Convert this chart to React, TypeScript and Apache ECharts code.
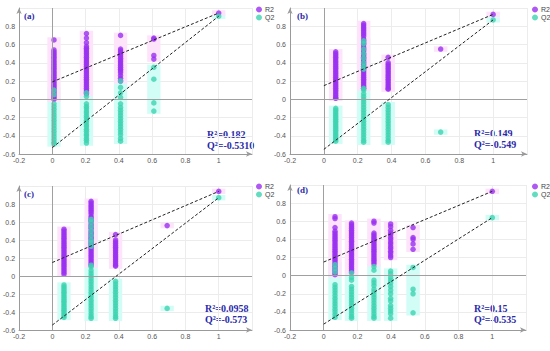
import React, { useEffect, useRef } from 'react';
import * as echarts from 'echarts';

const PANEL_LABELS = ['(a)', '(b)', '(c)', '(d)'];
const STAT_R2 = ['R²=0.182', 'R²=0.149', 'R²=0.0958', 'R²=0.15'];
const STAT_Q2 = ['Q²=-0.5310', 'Q²=-0.549', 'Q²=-0.573', 'Q²=-0.535'];
const X_TICKS = [-0.2, 0, 0.2, 0.4, 0.6, 0.8, 1];
const Y_TICKS = [-0.6, -0.4, -0.2, 0, 0.2, 0.4, 0.6, 0.8];

// ---- panel (a) ----
const A_X = [0.01, 0.205, 0.41, 0.61, 1];
const A_R2 = [
  [0.65, 0.54, 0.52, 0.5, 0.48, 0.46, 0.44, 0.42, 0.4, 0.38, 0.36, 0.34, 0.32, 0.3, 0.28, 0.26, 0.24, 0.22, 0.2, 0.18, 0.16, 0.14, 0.12, 0.1, 0.08, 0.06, 0.04, 0.02, 0.0],
  [0.72, 0.67, 0.62, 0.58, 0.56, 0.54, 0.52, 0.5, 0.48, 0.46, 0.44, 0.42, 0.4, 0.38, 0.36, 0.34, 0.32, 0.3, 0.28, 0.26, 0.24, 0.22, 0.2, 0.18, 0.16, 0.14, 0.12, 0.1, 0.08, 0.06],
  [0.7, 0.55, 0.53, 0.51, 0.49, 0.47, 0.45, 0.43, 0.41, 0.39, 0.37, 0.35, 0.33, 0.31, 0.29, 0.26, 0.23, 0.2],
  [0.67, 0.66, 0.48, 0.44],
  [0.945],
];
const A_Q2 = [
  [0.1, 0.05, -0.05, -0.08, -0.11, -0.14, -0.17, -0.2, -0.23, -0.26, -0.29, -0.32, -0.35, -0.38, -0.41, -0.44, -0.47, -0.49],
  [0.07, 0.03, -0.05, -0.08, -0.1, -0.13, -0.15, -0.18, -0.2, -0.23, -0.25, -0.28, -0.3, -0.33, -0.35, -0.38, -0.4, -0.43, -0.45, -0.48],
  [0.2, 0.13, 0.07, 0.02, -0.05, -0.09, -0.12, -0.15, -0.18, -0.21, -0.24, -0.27, -0.3, -0.33, -0.36, -0.39, -0.43, -0.46],
  [0.35, 0.22, -0.04, -0.13],
  [0.91],
];
const A_LINE_START = [0.19, -0.53];

// ---- panel (b) ----
const B_X = [0.07, 0.235, 0.38, 0.69, 1];
const B_R2 = [
  [0.52, 0.5, 0.48, 0.46, 0.44, 0.42, 0.4, 0.38, 0.36, 0.34, 0.32, 0.3, 0.28, 0.26, 0.24, 0.22, 0.2, 0.18, 0.16, 0.14, 0.12, 0.1, 0.08, 0.06, 0.04, 0.02, 0.01],
  [0.83, 0.81, 0.79, 0.77, 0.75, 0.73, 0.71, 0.69, 0.66, 0.64, 0.62, 0.6, 0.57, 0.55, 0.53, 0.5, 0.48, 0.46, 0.44, 0.42, 0.4, 0.38, 0.36, 0.34, 0.32, 0.3, 0.28, 0.26, 0.24, 0.22, 0.2, 0.18, 0.16, 0.14, 0.12],
  [0.46, 0.4, 0.38, 0.36, 0.34, 0.32, 0.3, 0.28, 0.26, 0.24, 0.22, 0.2, 0.18, 0.16, 0.14, 0.12, 0.11],
  [0.55],
  [0.93],
];
const B_Q2 = [
  [-0.1, -0.12, -0.14, -0.16, -0.18, -0.2, -0.22, -0.24, -0.26, -0.28, -0.3, -0.32, -0.34, -0.36, -0.38, -0.4, -0.42, -0.44, -0.46],
  [0.64, 0.61, 0.55, 0.5, 0.45, 0.4, 0.36, 0.33, 0.12, 0.1, 0.06, 0.03, 0.0, -0.03, -0.06, -0.09, -0.12, -0.15, -0.18, -0.21, -0.24, -0.27, -0.3, -0.33, -0.36, -0.39, -0.42, -0.45, -0.47],
  [-0.06, -0.09, -0.12, -0.15, -0.18, -0.21, -0.24, -0.27, -0.3, -0.33, -0.36, -0.39, -0.42, -0.45, -0.47],
  [-0.36],
  [0.87],
];
const B_LINE_START = [0.149, -0.549];

// ---- panel (c) ----
const C_X = [0.07, 0.233, 0.38, 0.69, 1];
const C_R2 = [
  [0.52, 0.5, 0.48, 0.46, 0.44, 0.42, 0.4, 0.38, 0.36, 0.34, 0.32, 0.3, 0.28, 0.26, 0.24, 0.22, 0.2, 0.18, 0.16, 0.14, 0.12, 0.1, 0.08, 0.06, 0.04, 0.02],
  [0.83, 0.81, 0.79, 0.77, 0.75, 0.73, 0.71, 0.69, 0.66, 0.64, 0.62, 0.6, 0.57, 0.55, 0.53, 0.5, 0.48, 0.46, 0.44, 0.42, 0.4, 0.38, 0.36, 0.34, 0.32, 0.3, 0.28, 0.26, 0.24, 0.22, 0.2, 0.18, 0.16, 0.14, 0.12],
  [0.46, 0.4, 0.38, 0.36, 0.34, 0.32, 0.3, 0.28, 0.26, 0.24, 0.22, 0.2, 0.18, 0.16, 0.14, 0.12, 0.11],
  [0.56],
  [0.94],
];
const C_Q2 = [
  [-0.1, -0.12, -0.14, -0.16, -0.18, -0.2, -0.22, -0.24, -0.26, -0.28, -0.3, -0.32, -0.34, -0.36, -0.38, -0.4, -0.42, -0.44, -0.46],
  [0.63, 0.6, 0.55, 0.5, 0.45, 0.4, 0.37, 0.33, 0.12, 0.1, 0.06, 0.03, 0.0, -0.03, -0.06, -0.09, -0.12, -0.15, -0.18, -0.21, -0.24, -0.27, -0.3, -0.33, -0.36, -0.39, -0.42, -0.45, -0.47],
  [-0.06, -0.09, -0.12, -0.15, -0.18, -0.21, -0.24, -0.27, -0.3, -0.33, -0.36, -0.39, -0.42, -0.45, -0.47],
  [-0.36],
  [0.87],
];
const C_LINE_START = [0.15, -0.545];

// ---- panel (d) ----
const D_X = [0.067, 0.165, 0.298, 0.397, 0.53, 1];
const D_R2 = [
  [0.65, 0.63, 0.53, 0.49, 0.47, 0.45, 0.43, 0.41, 0.39, 0.37, 0.35, 0.33, 0.31, 0.29, 0.27, 0.25, 0.23, 0.21, 0.19, 0.17, 0.15, 0.13, 0.11, 0.09, 0.07, 0.05, 0.03, 0.01],
  [0.58, 0.56, 0.54, 0.52, 0.5, 0.48, 0.46, 0.44, 0.42, 0.4, 0.38, 0.36, 0.34, 0.32, 0.3, 0.28, 0.26, 0.24, 0.22, 0.2, 0.18, 0.16, 0.14, 0.12, 0.1, 0.08, 0.06, 0.04],
  [0.6, 0.58, 0.47, 0.45, 0.43, 0.41, 0.39, 0.37, 0.35, 0.33, 0.31, 0.29, 0.27, 0.25, 0.23, 0.21, 0.19, 0.17, 0.15, 0.13],
  [0.57, 0.54, 0.5, 0.47, 0.45, 0.42, 0.4, 0.37, 0.35, 0.32, 0.3, 0.27, 0.25, 0.22, 0.2],
  [0.53, 0.42, 0.4, 0.35, 0.29],
  [0.93],
];
const D_Q2 = [
  [0.12, 0.08, 0.04, -0.1, -0.13, -0.16, -0.19, -0.22, -0.25, -0.28, -0.31, -0.34, -0.37, -0.4, -0.43, -0.46],
  [0.03, -0.02, -0.05, -0.12, -0.15, -0.18, -0.21, -0.24, -0.27, -0.3, -0.33, -0.36, -0.39, -0.42, -0.45, -0.47],
  [0.1, 0.06, -0.05, -0.08, -0.11, -0.15, -0.18, -0.21, -0.24, -0.27, -0.3, -0.33, -0.36, -0.39, -0.42, -0.45, -0.47],
  [0.05, 0.02, -0.02, -0.05, -0.08, -0.12, -0.16, -0.2, -0.25, -0.28, -0.33, -0.36, -0.39, -0.42, -0.47],
  [0.09, -0.15, -0.2, -0.41],
  [0.64],
];
const D_LINE_START = [0.15, -0.535];

const PANELS = [
  { xs: A_X, r2: A_R2, q2: A_Q2, start: A_LINE_START },
  { xs: B_X, r2: B_R2, q2: B_Q2, start: B_LINE_START },
  { xs: C_X, r2: C_R2, q2: C_Q2, start: C_LINE_START },
  { xs: D_X, r2: D_R2, q2: D_Q2, start: D_LINE_START },
];

const GRIDS = [
  { left: 18, top: 8, width: 234, height: 146 },
  { left: 290, top: 8, width: 237, height: 146 },
  { left: 18, top: 186, width: 234, height: 144 },
  { left: 290, top: 185, width: 236, height: 145 },
];
const LEGEND_POS = [
  { left: 256, top: 6 },
  { left: 532, top: 6 },
  { left: 256, top: 183 },
  { left: 532, top: 183 },
];
const LABEL_POS = [
  { x: 24, y: 16 },
  { x: 297, y: 16 },
  { x: 24, y: 194 },
  { x: 297, y: 190 },
];
const STAT_POS = [
  { x: 207, y: 134 },
  { x: 474, y: 133 },
  { x: 205, y: 308 },
  { x: 474, y: 308 },
];

const R2_COLOR = '#9a2ff0';
const Q2_COLOR = '#3dd3b0';
const TEXT_BLUE = '#2a2aa8';

function boxes(xs: number[], vals: number[][], hw: number, pad: number) {
  return xs.map((x, k) => [
    { xAxis: x - hw, yAxis: Math.min(...vals[k]) - pad },
    { xAxis: x + hw, yAxis: Math.max(...vals[k]) + pad },
  ]);
}

function fmt(v: number) {
  return String(Math.round(v * 10) / 10);
}

export default function App() {
  const ref = useRef<HTMLDivElement>(null);
  useEffect(() => {
    if (!ref.current) return;
    const chart = echarts.init(ref.current, null, { renderer: 'svg' });
    const grid: any[] = [];
    const xAxis: any[] = [];
    const yAxis: any[] = [];
    const series: any[] = [];
    const legend: any[] = [];
    const graphic: any[] = [];

    PANELS.forEach((p, i) => {
      grid.push({ ...GRIDS[i], containLabel: false });
      xAxis.push({
        type: 'value', gridIndex: i, min: -0.2, max: 1.2, interval: 0.2,
        axisLine: { show: true, onZero: false, symbol: ['none', 'arrow'], symbolSize: [4, 6], lineStyle: { color: '#9a9a9a', width: 1 } },
        axisTick: { show: false },
        axisLabel: {
          fontSize: 7, color: '#555', margin: 3, fontFamily: 'Liberation Sans',
          formatter: (v: number) => (X_TICKS.some((t) => Math.abs(t - v) < 1e-6) ? fmt(v) : ''),
        },
        splitLine: { show: true, lineStyle: { color: '#ececec', width: 1 } },
      });
      yAxis.push({
        type: 'value', gridIndex: i, min: -0.6, max: 1.0, interval: 0.2,
        axisLine: { show: true, onZero: false, symbol: ['none', 'arrow'], symbolSize: [4, 6], lineStyle: { color: '#9a9a9a', width: 1 } },
        axisTick: { show: false },
        axisLabel: {
          fontSize: 7, color: '#555', margin: 4, fontFamily: 'Liberation Sans',
          formatter: (v: number) => (Y_TICKS.some((t) => Math.abs(t - v) < 1e-6) ? fmt(v) : ''),
        },
        splitLine: { show: true, lineStyle: { color: '#ececec', width: 1 } },
      });

      const r2Pts = p.xs.flatMap((x, k) => p.r2[k].map((v) => [x, v]));
      const q2Pts = p.xs.flatMap((x, k) => p.q2[k].map((v) => [x, v]));
      const last = p.xs.length - 1;

      series.push({
        type: 'scatter', name: 'bgQ', xAxisIndex: i, yAxisIndex: i, data: [], z: 1, silent: true,
        markArea: { silent: true, itemStyle: { color: '#d2fdf6' }, data: boxes(p.xs, p.q2, 0.04, 0.03) },
      });
      series.push({
        type: 'scatter', name: 'bgR', xAxisIndex: i, yAxisIndex: i, data: [], z: 1, silent: true,
        markArea: { silent: true, itemStyle: { color: '#fde4fb' }, data: boxes(p.xs, p.r2, 0.04, 0.03) },
      });
      series.push({
        type: 'scatter', name: 'zero', xAxisIndex: i, yAxisIndex: i, data: [], z: 2, silent: true,
        markLine: {
          silent: true, symbol: ['none', 'none'], label: { show: false },
          lineStyle: { color: '#a0a0a0', type: 'solid', width: 1 },
          data: [{ xAxis: 0 }, { yAxis: 0 }],
        },
      });
      series.push({
        type: 'scatter', name: 'R2', xAxisIndex: i, yAxisIndex: i, data: r2Pts, z: 3,
        symbolSize: 5.5, itemStyle: { color: R2_COLOR },
      });
      series.push({
        type: 'scatter', name: 'Q2', xAxisIndex: i, yAxisIndex: i, data: q2Pts, z: 4,
        symbolSize: 5.5, itemStyle: { color: Q2_COLOR, opacity: 0.8 },
      });
      series.push({
        type: 'line', name: 'R2 fit', xAxisIndex: i, yAxisIndex: i, z: 5, symbol: 'none',
        data: [[0, p.start[0]], [p.xs[last], p.r2[last][0]]],
        lineStyle: { color: '#222', type: [3, 2], width: 1 },
      });
      series.push({
        type: 'line', name: 'Q2 fit', xAxisIndex: i, yAxisIndex: i, z: 5, symbol: 'none',
        data: [[0, p.start[1]], [p.xs[last], p.q2[last][0]]],
        lineStyle: { color: '#222', type: [3, 2], width: 1 },
      });

      legend.push({
        data: ['R2', 'Q2'], orient: 'vertical', ...LEGEND_POS[i],
        icon: 'circle', itemWidth: 6, itemHeight: 6, itemGap: 1, padding: 0,
        textStyle: { fontSize: 7, color: '#444', fontFamily: 'Liberation Sans', padding: [0, 0, 0, -2] },
        selectedMode: false,
      });

      graphic.push({
        type: 'text', left: LABEL_POS[i].x, top: LABEL_POS[i].y - 5,
        style: { text: PANEL_LABELS[i], fill: TEXT_BLUE, font: 'bold 9px "Liberation Serif"' },
      });
      graphic.push({
        type: 'text', x: STAT_POS[i].x, y: STAT_POS[i].y,
        style: { text: STAT_R2[i], fill: TEXT_BLUE, font: 'bold 10px "Liberation Serif"', verticalAlign: 'middle' },
      });
      graphic.push({
        type: 'text', x: STAT_POS[i].x, y: STAT_POS[i].y + 11.5,
        style: { text: STAT_Q2[i], fill: TEXT_BLUE, font: 'bold 10px "Liberation Serif"', verticalAlign: 'middle' },
      });
    });

    chart.setOption({
      animation: false,
      backgroundColor: '#ffffff',
      grid, xAxis, yAxis, series, legend, graphic,
    });
    return () => chart.dispose();
  }, []);
  return (
    <div style={{ position: 'fixed', left: 0, top: 0, width: 550, height: 351, background: '#fff' }}>
      <div ref={ref} style={{ width: 550, height: 351 }} />
    </div>
  );
}
